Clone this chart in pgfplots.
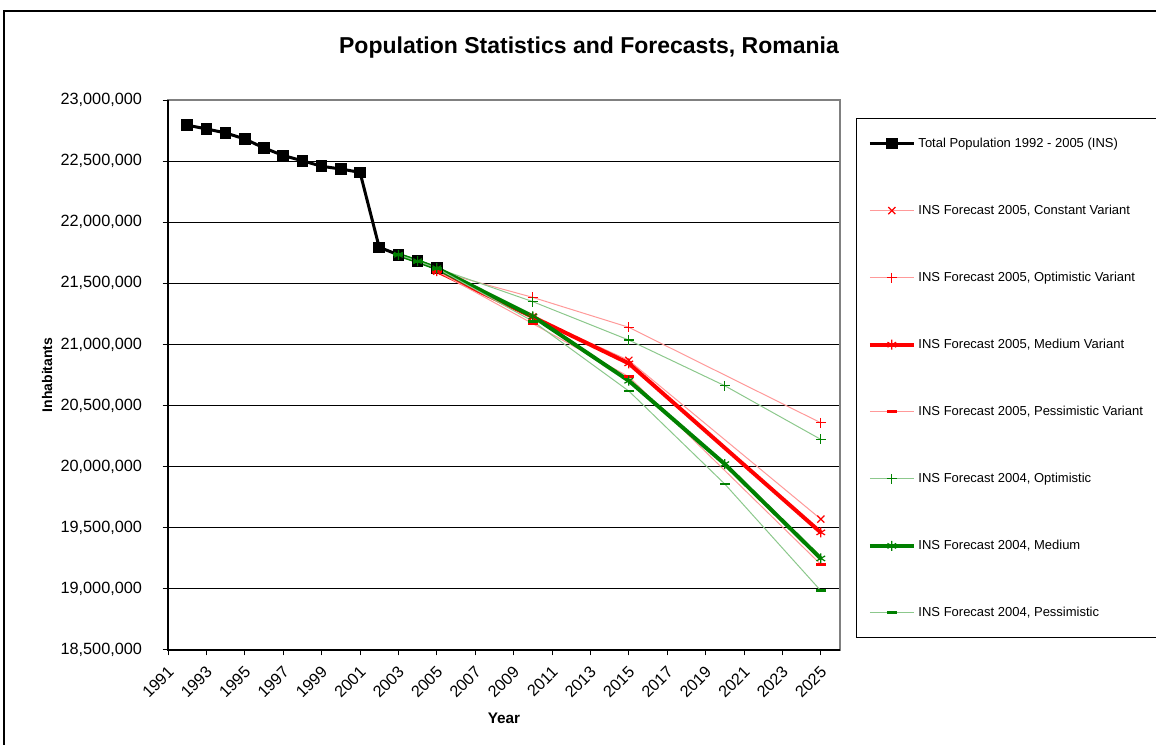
\documentclass[border=0pt]{standalone}
\usepackage{fontspec}
\setmainfont{Liberation Sans}
\usepackage{pgfplots}
\pgfplotsset{compat=1.18}
\definecolor{exred}{HTML}{FF0000}
\definecolor{exredl}{HTML}{FF9999}
\definecolor{exgreen}{HTML}{008000}
\definecolor{exgreenl}{HTML}{8CC88C}
\begin{document}
\begin{tikzpicture}
\useasboundingbox (0,0) rectangle (867bp,558.75bp);
\draw[line width=1bp] (3bp,0) -- (3bp,550.5bp) -- (867bp,550.5bp);
\begin{axis}[
  at={(126bp,71.25bp)}, anchor=south west,
  scale only axis, width=504bp, height=412.5bp,
  xmin=1991, xmax=2026, ymin=18500000, ymax=23000000,
  xtick={1991,1993,1995,1997,1999,2001,2003,2005,2007,2009,2011,2013,2015,2017,2019,2021,2023,2025},
  ytick={18500000,19000000,19500000,20000000,20500000,21000000,21500000,22000000,22500000,23000000},
  scaled y ticks=false,
  /pgf/number format/assume math mode=true,
  x tick label style={/pgf/number format/1000 sep={}, xshift=2.2bp, yshift=-10.3bp, rotate=45, anchor=east, inner sep=0pt, font=\fontsize{12.2bp}{14bp}\selectfont},
  y tick label style={/pgf/number format/.cd, fixed, precision=0, 1000 sep={,}, /tikz/.cd, font=\fontsize{12.2bp}{14bp}\selectfont, xshift=-12bp},
  tick pos=left, tick align=outside, major tick length=4bp,
  tick style={black, line width=0.75bp},
  axis line style={draw=gray, line width=0.9bp},
  ymajorgrids, major grid style={black, line width=0.75bp},
  title={\bfseries Population Statistics and Forecasts, Romania},
  title style={at={(axis description cs:0.6265,1.080)}, anchor=center, font=\fontsize{17.25bp}{20bp}\selectfont},
  xlabel={\bfseries Year},
  xlabel style={at={(axis description cs:0.5,-0.1236)}, anchor=center, font=\fontsize{11.5bp}{13bp}\selectfont},
  ylabel={\bfseries Inhabitants},
  ylabel style={at={(axis description cs:-0.180,0.5)}, anchor=center, font=\fontsize{10.5bp}{12bp}\selectfont},
  legend image code/.code={\draw[mark repeat=2,mark phase=2] plot coordinates {(0bp,0bp) (16.5bp,0bp) (33bp,0bp)};},
  legend style={at={(axis description cs:1.0238,0.9673)}, anchor=north west, draw=black, line width=0.75bp,
    font=\fontsize{9.75bp}{11bp}\selectfont, inner xsep=8.5bp, inner ysep=12.5bp, row sep=37.75bp,
    cells={anchor=west}},
  legend cell align=left,
  after end axis/.code={
    \draw[black, line width=0.9bp] (rel axis cs:0,1) -- (rel axis cs:0,0) -- (rel axis cs:1,0);
  },
]
\addplot[black, line width=2.25bp, mark=square*, mark size=3.2bp] coordinates {
 (1992,22794284) (1993,22763280) (1994,22730622) (1995,22680951) (1996,22607620)
 (1997,22545925) (1998,22502803) (1999,22458022) (2000,22435205) (2001,22408393)
 (2002,21794793) (2003,21733556) (2004,21680974) (2005,21623849)};
\addlegendentry{Total Population 1992 - 2005 (INS)}
\addplot[exredl, line width=0.75bp, mark=x, mark size=3.75bp, mark options={solid, exred, line width=0.9bp}] coordinates {
 (2005,21600000) (2010,21225000) (2015,20870000) (2025,19571000)};
\addlegendentry{INS Forecast 2005, Constant Variant}
\addplot[exredl, line width=0.75bp, mark=+, mark size=3.75bp, mark options={solid, exred, line width=0.9bp}] coordinates {
 (2005,21600000) (2010,21385000) (2015,21140000) (2025,20359000)};
\addlegendentry{INS Forecast 2005, Optimistic Variant}
\addplot[exred, line width=3bp, mark=asterisk, mark size=3.75bp, mark options={solid, exred, line width=0.9bp}] coordinates {
 (2005,21600000) (2010,21225000) (2015,20845000) (2025,19462000)};
\addlegendentry{INS Forecast 2005, Medium Variant}
\addplot[exredl, line width=0.75bp, mark=-, mark size=3.75bp, mark options={solid, exred, line width=2.2bp}] coordinates {
 (2005,21600000) (2010,21170000) (2015,20736000) (2025,19200000)};
\addlegendentry{INS Forecast 2005, Pessimistic Variant}
\addplot[exgreenl, line width=0.75bp, mark=+, mark size=3.75bp, mark options={solid, exgreen, line width=0.9bp}] coordinates {
 (2003,21733556) (2004,21680974) (2005,21623849) (2010,21350000) (2015,21036000) (2020,20662000) (2025,20223000)};
\addlegendentry{INS Forecast 2004, Optimistic}
\addplot[exgreen, line width=3bp, mark=asterisk, mark size=3.75bp, mark options={solid, exgreen, line width=0.9bp}] coordinates {
 (2003,21733556) (2004,21680974) (2005,21623849) (2010,21230000) (2015,20703000) (2020,20021000) (2025,19249000)};
\addlegendentry{INS Forecast 2004, Medium}
\addplot[exgreenl, line width=0.75bp, mark=-, mark size=3.75bp, mark options={solid, exgreen, line width=2.2bp}] coordinates {
 (2003,21733556) (2004,21680974) (2005,21623849) (2010,21190000) (2015,20619000) (2020,19858000) (2025,18985000)};
\addlegendentry{INS Forecast 2004, Pessimistic}
\end{axis}
\end{tikzpicture}
\end{document}
